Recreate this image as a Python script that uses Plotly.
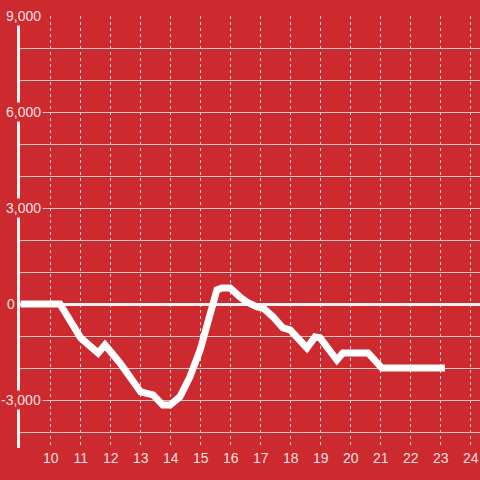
import plotly.graph_objects as go

hours = [9.0, 10.31, 11.0, 11.58, 11.81, 12.31, 13.0, 13.41, 13.74, 13.98, 14.31, 14.64,
         14.98, 15.31, 15.54, 15.71, 15.98, 16.31, 16.54, 16.88, 17.08, 17.41, 17.74,
         17.98, 18.31, 18.54, 18.81, 18.98, 19.54, 19.74, 20.58, 20.74, 21.04, 23.14]
values = [0, 0, -1060, -1530, -1280, -1840, -2750, -2840, -3160, -3160, -2900, -2280,
          -1440, -280, 440, 500, 500, 220, 60, -90, -125, -400, -750,
          -810, -1125, -1375, -1030, -1060, -1750, -1530, -1530, -1690, -2000, -2000]

x_ticks = list(range(10, 25))
y_label_vals = [9000, 6000, 3000, 0, -3000]
y_label_text = ["9,000", "6,000", "3,000", "0", "-3,000"]

BG = "#cc2a2f"
TXT = "rgba(255,255,255,0.88)"

fig = go.Figure()
fig.add_trace(go.Scatter(x=hours, y=values, mode="lines",
                         line=dict(color="#ffffff", width=7),
                         hoverinfo="skip", showlegend=False))

W = 460.0
annotations = []
for v, t in zip(y_label_vals, y_label_text):
    right_px = 17 if v == 0 else 43
    annotations.append(dict(
        x=(right_px - 20) / W, xref="paper", y=v, yref="y",
        text=t, showarrow=False, xanchor="right", yanchor="middle",
        font=dict(family="Liberation Sans, Arial, sans-serif", size=14, color=TXT),
        bgcolor=BG if v != 0 else "rgba(0,0,0,0)", borderpad=1))

fig.update_layout(
    width=480, height=480,
    margin=dict(l=20, r=0, t=16, b=32, autoexpand=False),
    paper_bgcolor=BG, plot_bgcolor=BG,
    showlegend=False,
    annotations=annotations,
    xaxis=dict(range=[8.977, 24.31], tickvals=x_ticks, automargin=False,
               ticktext=[str(v) for v in x_ticks],
               showgrid=True, gridcolor="#d9d9d9", gridwidth=1, griddash="3px,3px",
               showline=False, zeroline=False, ticks="",
               tickfont=dict(family="Liberation Sans, Arial, sans-serif", size=14, color=TXT)),
    yaxis=dict(range=[-4500, 9000], dtick=1000, tick0=0, automargin=False,
               showgrid=True, gridcolor="#c8c8c8", gridwidth=1,
               showticklabels=False, ticks="",
               zeroline=True, zerolinecolor="#f2f2f2", zerolinewidth=3,
               showline=True, linecolor="#f2f2f2", linewidth=3),
)

fig.write_html("out.html",
               config={"displayModeBar": False},
               post_script="document.body.style.margin='0';"
                           "document.body.style.background='" + BG + "';")
